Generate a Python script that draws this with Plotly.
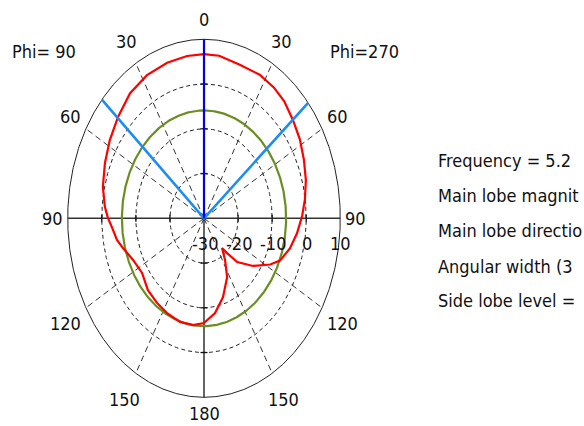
import numpy as np
import plotly.graph_objects as go

# ---------------- data ----------------
R_MIN, R_MAX = -30, 10                    # radial scale, dB
ring_ticks = [-30, -20, -10, 0, 10]       # radial tick labels
angle_ticks = [0, 30, 60, 90, 120, 150, 180]

# Farfield cut, Phi=270 half-plane (drawn on the right), theta in deg, gain in dB
phi270_theta = [0, 7, 17, 27, 35, 42, 50, 58, 66, 74, 82, 89, 97, 105, 113,
                118, 126.5, 135, 139, 141.5, 146.5, 152.7, 162.5, 171.3, 180]
phi270_db = [6.7, 6.6, 5.9, 6.0, 5.7, 5.2, 4.1, 3.2, 2.1, 1.1, -0.1, -1.2, -2.5,
             -3.9, -5.8, -8.0, -12.1, -16.2, -19.7, -21.5, -18.8, -15.2, -11.5,
             -8.6, -6.6]
# Phi=90 half-plane (drawn on the left)
phi90_theta = [7.8, 17.3, 27.6, 37.8, 48.1, 57.7, 66.9, 76.7, 85, 89.8, 94.2,
               100.7, 105.6, 114.1, 123.9, 134.3, 143.9, 152.9, 163.1, 172.3]
phi90_db = [6.6, 6.4, 6.1, 5.4, 3.9, 2.7, 1.6, 0.5, -0.8, -1.8, -2.9, -4.0, -5.3,
            -7.2, -8.1, -7.0, -6.6, -6.2, -5.8, -5.9]

main_lobe_db = 6.7
main_lobe_dir = 0.0
beam_left, beam_right = 48.5, 49.8         # 3 dB beam edges (deg)
side_lobe_rel = -12.6                      # side lobe level circle, dB rel. main lobe

# info block, as far as it is visible in the (cropped) picture
info_lines = ["Frequency = 5.2",
              "Main lobe magnit",
              "Main lobe directio",
              "Angular width (3",
              "Side lobe level ="]

# ---------------- geometry (elliptical polar frame) ----------------
W, H = 584, 426
CX, CY = 204.0, 218.3        # centre, px
SX, SY = 136.3, 179.0        # outer-ring semi axes, px

def rho(db):
    return (np.asarray(db, float) - R_MIN) / (R_MAX - R_MIN)

def to_xy(alpha_deg, r):
    a = np.radians(np.asarray(alpha_deg, float))
    r = np.asarray(r, float)
    return r * np.sin(a), r * np.cos(a)

FONT = "DejaVu Sans Condensed, Liberation Sans Narrow, Arial Narrow, sans-serif"
FSIZE = 18
fig = go.Figure()

def line(x, y, color, width, dash="solid"):
    fig.add_trace(go.Scatter(x=list(x), y=list(y), mode="lines",
                             line=dict(color=color, width=width, dash=dash),
                             hoverinfo="skip", showlegend=False))

full = np.linspace(0, 360, 721)
# dashed rings
for db in ring_ticks[1:-1]:
    x, y = to_xy(full, np.full_like(full, rho(db)))
    line(x, y, "#222", 1, "4px,3px")
# dashed spokes
for a in [30, 60, 120, 150]:
    for s in (1, -1):
        x, y = to_xy([s * a, s * a], [0, 1])
        line(x, y, "#333", 1, "6px,4px")
# outer ring
x, y = to_xy(full, np.ones_like(full))
line(x, y, "#222", 1)
# axes
line([-1, 1], [0, 0], "#333", 1.6)
line([0, 0], [0, -1], "#111", 1.3)
# ticks on axes
tx, ty = [], []
hy, hx = 3.5 / SY, 3.5 / SX
for db in ring_ticks[1:-1]:
    r = float(rho(db))
    for s in (1, -1):
        tx += [s * r, s * r, None]; ty += [-hy, hy, None]
        tx += [-hx, hx, None]; ty += [s * r, s * r, None]
fig.add_trace(go.Scatter(x=tx, y=ty, mode="lines", line=dict(color="#111", width=1.3),
                         hoverinfo="skip", showlegend=False))

# side lobe level circle
x, y = to_xy(full, np.full_like(full, rho(main_lobe_db + side_lobe_rel)))
line(x, y, "#6b8e23", 2.2)

# pattern
alpha = list(phi270_theta) + [-t for t in phi90_theta[::-1]] + [phi270_theta[0]]
dbs = list(phi270_db) + list(phi90_db[::-1]) + [phi270_db[0]]
x, y = to_xy(alpha, rho(dbs))
line(x, y, "#ff0000", 2.2)

# beam width lines and main lobe direction
x, y = to_xy([-beam_left, 0, beam_right], [1, 0, 1])
line(x, y, "#1e8cf0", 2.6)
x, y = to_xy([main_lobe_dir, main_lobe_dir], [0, 1])
line(x, y, "#0000ee", 2.2)

ann = []
def text(xp, yp, s, anchor="center"):
    ann.append(dict(x=xp, y=yp, xref="x", yref="y", text=s, showarrow=False,
                    xanchor=anchor, yanchor="middle",
                    font=dict(family=FONT, size=FSIZE, color="#111")))

# angle labels
lab_r = {0: 1.11, 30: 1.14, 60: 1.135, 90: 1.115, 120: 1.17, 150: 1.17, 180: 1.09}
for a in angle_ticks:
    sides = (1,) if a in (0, 180) else (1, -1)
    for s in sides:
        x, y = to_xy(s * a, lab_r[a])
        text(float(x), float(y), str(a))
# radial labels
for db in ring_ticks:
    text(float(rho(db)) + 0.005, -0.138, str(db))

def px(xp, yp):
    return (xp - CX) / SX, (CY - yp) / SY

for s, (xp, yp) in [("Phi= 90", (44, 51)), ("Phi=270", (364.5, 51))]:
    x, y = px(xp, yp)
    text(x, y, s)
for i, s in enumerate(info_lines):
    x, y = px(436, [160, 195, 230, 266, 300][i])
    text(x, y, s, anchor="left")

fig.update_layout(
    width=W, height=H, margin=dict(l=0, r=0, t=0, b=0, pad=0),
    paper_bgcolor="white", plot_bgcolor="white",
    xaxis=dict(range=[-CX / SX, (W - CX) / SX], visible=False, fixedrange=True),
    yaxis=dict(range=[-(H - CY) / SY, CY / SY], visible=False, fixedrange=True),
    annotations=ann, showlegend=False,
)
fig.write_html("out.html", config={"displayModeBar": False},
               post_script="document.body.style.margin='0';"
                           "document.body.style.overflow='hidden';")
